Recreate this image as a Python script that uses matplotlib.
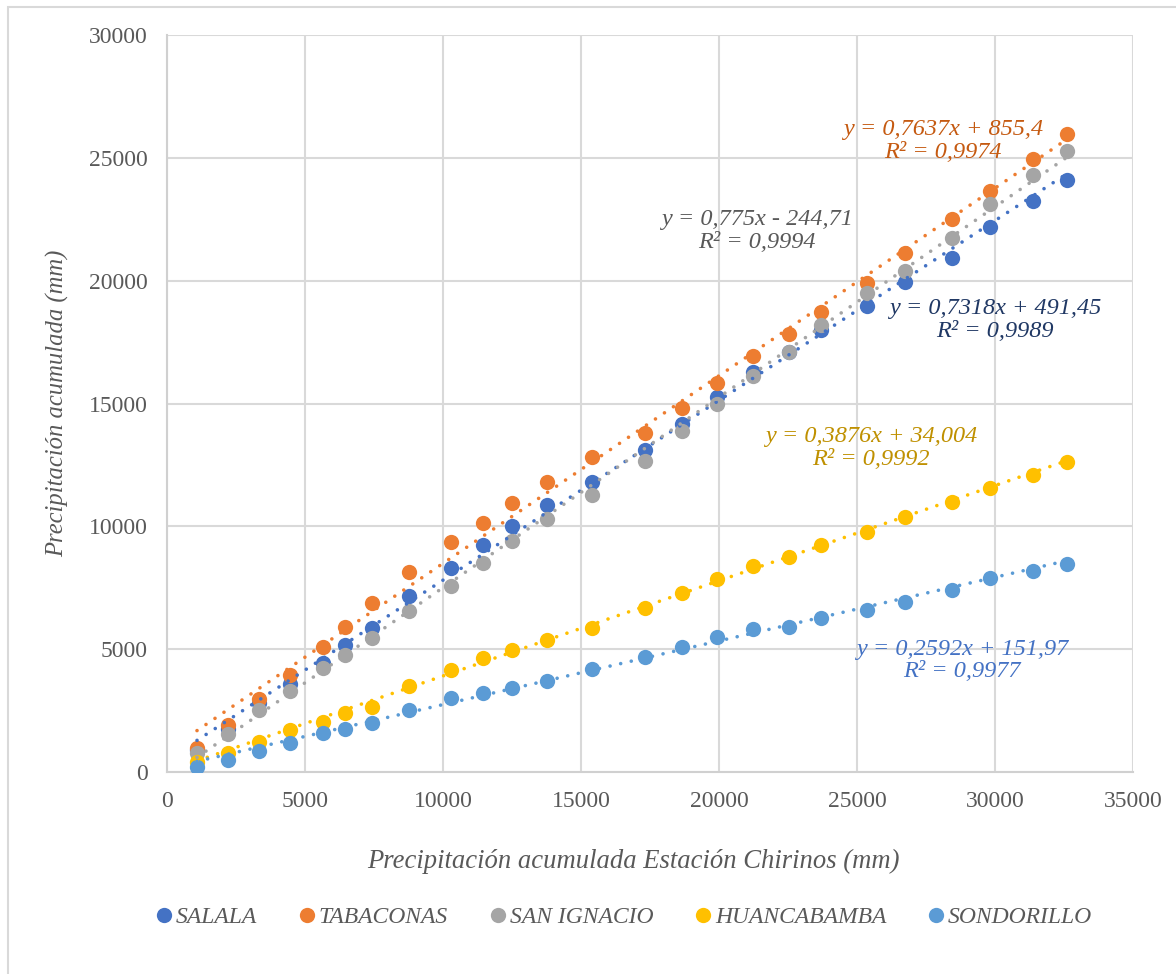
import matplotlib
matplotlib.use("Agg")
import matplotlib.pyplot as plt
from matplotlib.lines import Line2D
from matplotlib.patches import Rectangle
import numpy as np

# Accumulated precipitation at Chirinos (x) vs. neighbouring stations (y), mm
chirinos = [1087, 2210, 3333, 4456, 5652, 6449, 7427, 8768, 10290, 11449,
            12500, 13768, 15399, 17319, 18659, 19927, 21232, 22536, 23696,
            25362, 26739, 28442, 29819, 31377, 32609]

salala = [900, 1750, 2800, 3583, 4438, 5171, 5863, 7167, 8307, 9243,
          10017, 10872, 11809, 13112, 14171, 15270, 16288, 17102, 17998,
          18976, 19953, 20930, 22192, 23252, 24106]
tabaconas = [977, 1914, 2973, 3950, 5090, 5904, 6881, 8144, 9366, 10139,
             10954, 11809, 12827, 13804, 14822, 15840, 16940, 17835, 18731,
             19912, 21134, 22518, 23659, 24962, 25980]
san_ignacio = [774, 1547, 2525, 3298, 4235, 4764, 5456, 6556, 7574, 8510,
               9406, 10302, 11279, 12664, 13885, 14985, 16125, 17102, 18202,
               19505, 20401, 21744, 23130, 24310, 25287]
huancabamba = [407, 774, 1222, 1710, 2036, 2402, 2647, 3502, 4153, 4642,
               4968, 5375, 5864, 6678, 7289, 7859, 8388, 8755, 9243, 9773,
               10384, 10994, 11565, 12094, 12623]
sondorillo = [204, 489, 855, 1181, 1588, 1751, 1995, 2525, 3013, 3217,
              3420, 3706, 4194, 4683, 5090, 5497, 5823, 5904, 6271, 6597,
              6922, 7411, 7900, 8185, 8470]

station_names = ["SALALA", "TABACONAS", "SAN IGNACIO", "HUANCABAMBA", "SONDORILLO"]
station_values = [salala, tabaconas, san_ignacio, huancabamba, sondorillo]

# Linear trend parameters (slope, intercept, R²)
slopes = [0.7318, 0.7637, 0.775, 0.3876, 0.2592]
intercepts = [491.45, 855.4, -244.71, 34.004, 151.97]
r_squared = [0.9989, 0.9974, 0.9994, 0.9992, 0.9977]

x_ticks = [0, 5000, 10000, 15000, 20000, 25000, 30000, 35000]
y_ticks = [0, 5000, 10000, 15000, 20000, 25000, 30000]

x_title = "Precipitación acumulada Estación Chirinos (mm)"
y_title = "Precipitación acumulada (mm)"

marker_colors = ["#4472C4", "#ED7D31", "#A5A5A5", "#FFC000", "#5B9BD5"]
label_colors = ["#203864", "#C55A11", "#595959", "#BF9000", "#4472C4"]
# centre of each equation label (data coordinates)
label_pos = [(30000, 18400), (28114, 25674), (21376, 22028),
             (25506, 13173), (28800, 4540)]

text_gray = "#595959"
serif = ["Liberation Serif", "DejaVu Serif"]


def dec(v):
    return repr(float(v)).replace(".", ",")


def equation(m, b, r2):
    sign = "+" if b >= 0 else "-"
    return f"y = {dec(m)}x {sign} {dec(abs(b))}\nR² = {dec(r2)}"


fig = plt.figure(figsize=(11.76, 9.74), dpi=100)
fig.patches.append(Rectangle((8 / 1176, -0.1), 1.2, 1 - 7 / 974 + 0.1,
                             transform=fig.transFigure, fill=False,
                             edgecolor="#D9D9D9", linewidth=1.5))

ax = fig.add_axes([167 / 1176, 1 - 772 / 974, (1133 - 167) / 1176, (772 - 35) / 974])
ax.set_xlim(0, 35000)
ax.set_ylim(0, 30000)
ax.set_xticks(x_ticks)
ax.set_yticks(y_ticks)
ax.set_xticklabels([str(t) for t in x_ticks], family=serif, fontsize=17, color=text_gray)
ax.set_yticklabels([str(t) for t in y_ticks], family=serif, fontsize=17, color=text_gray)
ax.tick_params(axis="x", length=0, pad=14)
ax.tick_params(axis="y", length=0, pad=14)
ax.grid(True, color="#D9D9D9", linewidth=1.5)
ax.set_axisbelow(True)
for side in ["top", "right"]:
    ax.spines[side].set_visible(False)
for side in ["left", "bottom"]:
    ax.spines[side].set_color("#D0D0D0")
    ax.spines[side].set_linewidth(1.5)

x = np.array(chirinos, dtype=float)
for name, vals, col in zip(station_names, station_values, marker_colors):
    ax.plot(x, vals, linestyle="none", marker="o", markersize=11,
            markerfacecolor=col, markeredgewidth=0, label=name, zorder=3)

xs = np.array([x.min(), x.max()])
for m, b, col in zip(slopes, intercepts, marker_colors):
    ax.plot(xs, m * xs + b, color=col, linewidth=2.6,
            linestyle=(0, (0.01, 3.0)), dash_capstyle="round", zorder=4)

for m, b, r2, col, (px, py) in zip(slopes, intercepts, r_squared, label_colors, label_pos):
    ax.text(px, py, equation(m, b, r2), ha="center", va="center",
            family=serif, style="italic", fontsize=17.5, color=col,
            linespacing=1.12, zorder=5)

ax.set_xlabel(x_title, family=serif, style="italic", fontsize=19.2,
              color=text_gray, labelpad=26)
ax.xaxis.label.set_x(0.483)
ax.set_ylabel(y_title, family=serif, style="italic", fontsize=17.7,
              color=text_gray, labelpad=14)

handles = [Line2D([], [], linestyle="none", marker="o", markersize=11,
                  markerfacecolor=c, markeredgewidth=0) for c in marker_colors]
leg = fig.legend(handles, station_names, loc="center", ncol=5,
                 bbox_to_anchor=(622 / 1176, 1 - 917 / 974), frameon=False,
                 handletextpad=0.0, columnspacing=1.62, handlelength=1.0,
                 prop={"family": serif, "style": "italic", "size": 17})
for t in leg.get_texts():
    t.set_color(text_gray)

fig.savefig("out.png", dpi=100, facecolor="white")
